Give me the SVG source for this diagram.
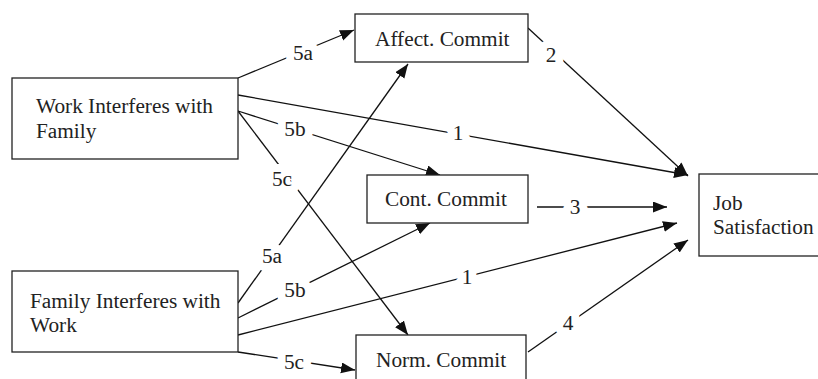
<svg xmlns="http://www.w3.org/2000/svg" width="818" height="379" viewBox="0 0 818 379">
<defs>
<marker id="arr" markerUnits="userSpaceOnUse" markerWidth="15" markerHeight="12" refX="14" refY="5.5" orient="auto">
<path d="M0,0 L14,5.5 L0,11 z" fill="#111"/>
</marker>
<style>
.box{fill:#fff;stroke:#222;stroke-width:1.3}
.t{font-family:"Liberation Serif","Times New Roman",serif;font-size:21.3px;fill:#222}
.lbl{font-family:"Liberation Serif","Times New Roman",serif;font-size:21.3px;fill:#222;text-anchor:middle;stroke:#fff;stroke-width:16px;paint-order:stroke;stroke-linejoin:round}
.c line{stroke:#111;stroke-width:1.3;marker-end:url(#arr)}
</style>
</defs>
<g id="connectors" class="c">
<line x1="238" y1="78" x2="354" y2="30"/>
<line x1="238" y1="95" x2="688" y2="175"/>
<line x1="238" y1="111" x2="440" y2="175"/>
<line x1="238" y1="111" x2="408" y2="335"/>
<line x1="528" y1="28" x2="688" y2="176"/>
<line x1="537" y1="207" x2="667" y2="207"/>
<line x1="238" y1="303" x2="408" y2="64"/>
<line x1="238" y1="318" x2="430" y2="223"/>
<line x1="238" y1="335" x2="677" y2="223"/>
<line x1="238" y1="352" x2="355" y2="370"/>
<line x1="528" y1="352" x2="688" y2="240"/>
<text class="lbl" x="303" y="60">5a</text>
<text class="lbl" x="458" y="140">1</text>
<text class="lbl" x="295" y="136">5b</text>
<text class="lbl" x="282" y="186">5c</text>
<text class="lbl" x="551" y="62">2</text>
<text class="lbl" x="575" y="214">3</text>
<text class="lbl" x="272" y="263">5a</text>
<text class="lbl" x="295" y="297">5b</text>
<text class="lbl" x="467" y="284">1</text>
<text class="lbl" x="294" y="369">5c</text>
<text class="lbl" x="568" y="330">4</text>
</g>
<g id="work">
<rect class="box" x="12" y="78" width="226" height="81"/>
<text class="t" x="36" y="113">Work Interferes with</text>
<text class="t" x="36" y="138">Family</text>
</g>
<g id="family">
<rect class="box" x="12" y="271" width="226" height="81"/>
<text class="t" x="30" y="308">Family Interferes with</text>
<text class="t" x="30" y="332">Work</text>
</g>
<g id="affect">
<rect class="box" x="355" y="14" width="173" height="48"/>
<text class="t" x="375" y="46">Affect. Commit</text>
</g>
<g id="cont">
<rect class="box" x="367" y="175" width="161" height="48"/>
<text class="t" x="385" y="206">Cont. Commit</text>
</g>
<g id="norm">
<rect class="box" x="356" y="335" width="170" height="60"/>
<text class="t" x="376" y="367">Norm. Commit</text>
</g>
<g id="job">
<rect class="box" x="699" y="174" width="125" height="82"/>
<text class="t" x="713" y="210">Job</text>
<text class="t" x="713" y="234">Satisfaction</text>
</g>
</svg>
